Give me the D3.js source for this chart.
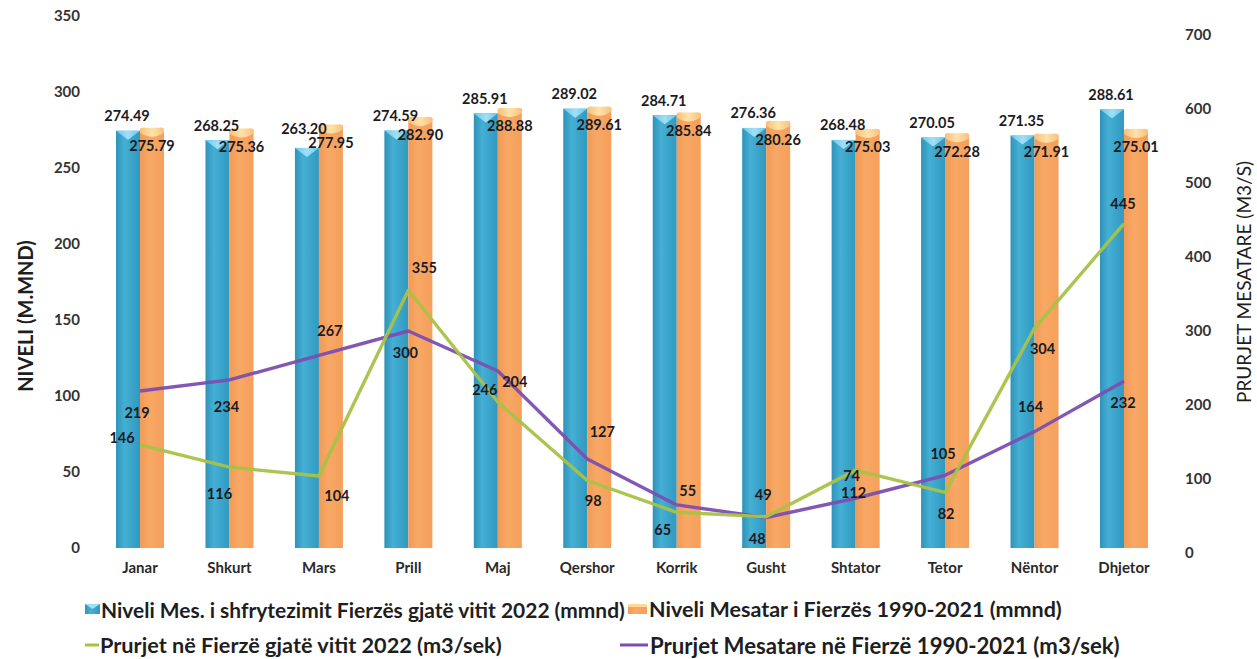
<!DOCTYPE html>
<html>
<head>
<meta charset="utf-8">
<script src="https://cdn.jsdelivr.net/npm/d3@7"></script>
<style>
  html, body { margin: 0; padding: 0; background: #ffffff; }
  svg { display: block; }
  text { font-family: Lato, "Open Sans", sans-serif; }
</style>
</head>
<body>
<svg id="chart" width="1257" height="659"></svg>
<script>
// ---------------- DATA ----------------
const months = ["Janar", "Shkurt", "Mars", "Prill", "Maj", "Qershor", "Korrik", "Gusht", "Shtator", "Tetor", "Nëntor", "Dhjetor"];
const level2022 = [274.49, 268.25, 263.20, 274.59, 285.91, 289.02, 284.71, 276.36, 268.48, 270.05, 271.35, 288.61];
const levelAvg = [275.79, 275.36, 277.95, 282.90, 288.88, 289.61, 285.84, 280.26, 275.03, 272.28, 271.91, 275.01];
const flow2022 = [146, 116, 104, 355, 204, 98, 55, 49, 112, 82, 304, 445];
const flowAvg = [219, 234, 267, 300, 246, 127, 65, 48, 74, 105, 164, 232];
const leftTicks = [0, 50, 100, 150, 200, 250, 300, 350];
const rightTicks = [0, 100, 200, 300, 400, 500, 600, 700];
const seriesNames = [
  "Niveli Mes. i shfrytezimit Fierzës gjatë vitit 2022 (mmnd)",
  "Niveli Mesatar i Fierzës 1990-2021 (mmnd)",
  "Prurjet në Fierzë gjatë vitit 2022 (m3/sek)",
  "Prurjet Mesatare në Fierzë 1990-2021 (m3/sek)"
];
const leftTitle = "NIVELI (M.MND)";
const rightTitle = "PRURJET MESATARE (M3/S)";

// label placement offsets (pixels, relative to each point / bar top)
const flow2022LabelOffsets = [[-18,-7],[-10,26],[18,19],[16,-23],[17,-21],[6,20],[11,-22],[-3,-22],[-2,22],[1,21],[8,20],[-1,-20]];
const flowAvgLabelOffsets = [[-3,22],[-3,27],[11,-25],[-3,21],[-13,19],[15,-28],[-14,25],[-9,21],[-4,-23],[-2,-22],[-4,-25],[-1,21]];
const level2022LabelOffsets = [[-13,-15],[-13,-15],[-15,-19],[-13,-15],[-13,-15],[-13,-15],[-13,-15],[-13,-15],[-13,-15],[-13,-15],[-13,-15],[-13,-15]];

// ---------------- STYLE ----------------
const colGreen = "#a8c247", colPurple = "#7c4eb0";

const svg = d3.select("#chart");
const defs = svg.append("defs");

function hGrad(id, stops) {
  const g = defs.append("linearGradient").attr("id", id).attr("x1", "0%").attr("x2", "100%").attr("y1", "0%").attr("y2", "0%");
  stops.forEach(s => g.append("stop").attr("offset", s[0]).attr("stop-color", s[1]));
}
hGrad("gBlue", [["0%", "#2f92b9"], ["35%", "#45afd4"], ["70%", "#3aa3c9"], ["100%", "#3199be"]]);
hGrad("gOrange", [["0%", "#f19a55"], ["40%", "#f8a865"], ["100%", "#f59f5b"]]);
hGrad("gBlueTop", [["0%", "#6cc6e8"], ["50%", "#9fe0f7"], ["100%", "#6cc6e8"]]);
hGrad("gOrangeTop", [["0%", "#f8c07c"], ["50%", "#ffe2a8"], ["100%", "#f8c07c"]]);

// ---------------- SCALES ----------------
const x = d3.scaleBand().domain(months).range([95.3, 1168.7]).padding(0);
const yL = d3.scaleLinear().domain([0, 350]).range([548, 16]);
const yR = d3.scaleLinear().domain([0, 700]).range([553, 35]);
const cx = m => x(m) + x.bandwidth() / 2;
const barW = 24;

// ---------------- AXES ----------------
const axL = svg.append("g").attr("transform", "translate(82,0)")
  .call(d3.axisLeft(yL).tickValues(leftTicks).tickSize(0).tickPadding(2));
const axR = svg.append("g").attr("transform", "translate(1183,0)")
  .call(d3.axisRight(yR).tickValues(rightTicks).tickSize(0).tickPadding(2));
const axX = svg.append("g").attr("transform", "translate(0,548)")
  .call(d3.axisBottom(x).tickSize(0).tickPadding(14));
[axL, axR, axX].forEach(a => {
  a.select(".domain").remove();
  a.selectAll("text").attr("font-family", "Lato, sans-serif").attr("font-weight", 700)
    .attr("font-size", 15).attr("fill", "#333");
});
axX.selectAll("text").attr("fill", "#2a2a2a");

svg.append("text").attr("transform", "translate(33,316) rotate(-90)")
  .attr("text-anchor", "middle").attr("font-size", 20).attr("font-weight", 700).attr("fill", "#1e1e1e")
  .text(leftTitle);
svg.append("text").attr("transform", "translate(1251,282) rotate(-90)")
  .attr("text-anchor", "middle").attr("font-size", 19).attr("font-weight", 400).attr("fill", "#1e1e1e")
  .text(rightTitle);

// ---------------- BARS ----------------
function drawBars(vals, offset, fill, topFill, vShape) {
  const g = svg.append("g");
  months.forEach((m, i) => {
    const x0 = cx(m) + offset, x1 = x0 + barW;
    const yt = yL(vals[i]), yb = yL(0);
    g.append("rect").attr("x", x0).attr("y", yt).attr("width", barW).attr("height", yb - yt).attr("fill", fill);
    if (vShape) {
      g.append("path").attr("d", `M${x0},${yt} L${x1},${yt} L${(x0 + x1) / 2},${yt + 9} Z`).attr("fill", topFill);
    } else {
      g.append("path").attr("d", `M${x0},${yt + 1} Q${x0},${yt - 2} ${x0 + 6},${yt - 1} L${x1 - 6},${yt - 1} Q${x1},${yt - 2} ${x1},${yt + 1} L${x1},${yt + 4} Q${(x0 + x1) / 2},${yt + 12} ${x0},${yt + 4} Z`).attr("fill", topFill);
    }
  });
}
drawBars(level2022, -barW, "url(#gBlue)", "url(#gBlueTop)", true);
drawBars(levelAvg, 0, "url(#gOrange)", "url(#gOrangeTop)", false);

// ---------------- LINES ----------------
const lineGen = vals => d3.line().x((d, i) => cx(months[i])).y(d => yR(d))(vals);
svg.append("path").attr("d", lineGen(flowAvg)).attr("fill", "none").attr("stroke", colPurple)
  .attr("stroke-width", 3.4).attr("stroke-linejoin", "round").attr("opacity", 0.95);
svg.append("path").attr("d", lineGen(flow2022)).attr("fill", "none").attr("stroke", colGreen)
  .attr("stroke-width", 3.4).attr("stroke-linejoin", "round").attr("opacity", 0.95);

// ---------------- LABELS ----------------
const lblStyle = sel => sel.attr("text-anchor", "middle").attr("dominant-baseline", "central")
  .attr("font-family", "Lato, sans-serif").attr("font-weight", 700).attr("font-size", 14.5).attr("fill", "#1b1b24");

months.forEach((m, i) => {
  svg.append("text").call(lblStyle).attr("x", cx(m) + level2022LabelOffsets[i][0]).attr("y", yL(level2022[i]) + level2022LabelOffsets[i][1])
    .text(level2022[i].toFixed(2));
  svg.append("text").call(lblStyle).attr("x", cx(m) + barW / 2).attr("y", yL(levelAvg[i]) + 17)
    .text(levelAvg[i].toFixed(2));
  svg.append("text").call(lblStyle).attr("x", cx(m) + flow2022LabelOffsets[i][0]).attr("y", yR(flow2022[i]) + flow2022LabelOffsets[i][1])
    .text(flow2022[i]);
  svg.append("text").call(lblStyle).attr("x", cx(m) + flowAvgLabelOffsets[i][0]).attr("y", yR(flowAvg[i]) + flowAvgLabelOffsets[i][1])
    .text(flowAvg[i]);
});

// ---------------- LEGEND ----------------
const leg = svg.append("g");
const legFont = 18;
function legText(xp, yp, txt, targetW) {
  const t = leg.append("text").attr("x", xp).attr("y", yp).attr("dominant-baseline", "central")
    .attr("font-family", "Lato, sans-serif").attr("font-weight", 700).attr("font-size", legFont).attr("fill", "#1e1e1e").text(txt);
  const w = t.node().getComputedTextLength();
  if (targetW) t.attr("font-size", legFont * targetW / w);
  return t;
}
const r1 = 609, r2 = 645;
leg.append("rect").attr("x", 85).attr("y", r1 - 5).attr("width", 15).attr("height", 10).attr("fill", "url(#gBlue)");
leg.append("path").attr("d", `M85,${r1 - 5} L100,${r1 - 5} L92.5,${r1} Z`).attr("fill", "#9fe0f7");
legText(101, r1, seriesNames[0], 524);
leg.append("rect").attr("x", 628).attr("y", r1 - 5).attr("width", 19).attr("height", 10).attr("fill", "url(#gOrange)");
leg.append("rect").attr("x", 628).attr("y", r1 - 5).attr("width", 19).attr("height", 3).attr("fill", "#ffd79c");
legText(649, r1, seriesNames[1], 413);
leg.append("line").attr("x1", 85).attr("x2", 99).attr("y1", r2).attr("y2", r2).attr("stroke", colGreen).attr("stroke-width", 3);
legText(100, r2, seriesNames[2], 402);
leg.append("line").attr("x1", 620).attr("x2", 648).attr("y1", r2).attr("y2", r2).attr("stroke", colPurple).attr("stroke-width", 3);
legText(650, r2, seriesNames[3], 470);
</script>
</body>
</html>
